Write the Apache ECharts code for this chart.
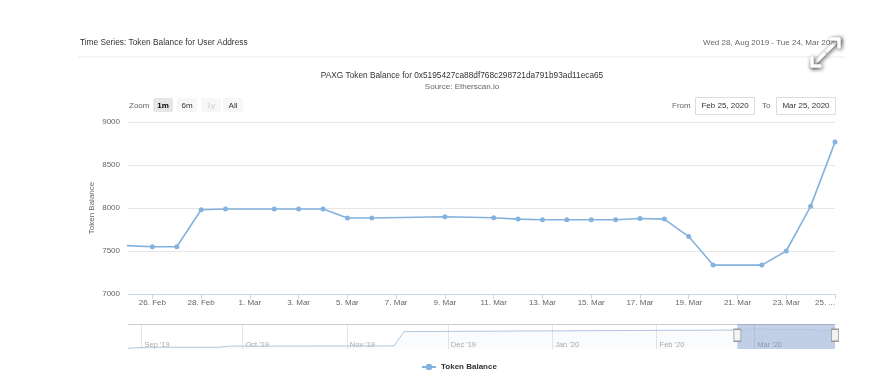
<!DOCTYPE html>
<html><head><meta charset="utf-8">
<script src="https://cdn.jsdelivr.net/npm/echarts@6/dist/echarts.min.js"></script>
<style>html,body{margin:0;padding:0;background:#fff}#c{width:895px;height:382px}</style>
</head><body><div id="c"></div>
<script>
// Visible window (1m) – token balance per date
const dates = ['2020-02-24','2020-02-26','2020-02-27','2020-02-28','2020-02-29','2020-03-02','2020-03-03','2020-03-04','2020-03-05','2020-03-06','2020-03-09','2020-03-11','2020-03-12','2020-03-13','2020-03-14','2020-03-15','2020-03-16','2020-03-17','2020-03-18','2020-03-19','2020-03-20','2020-03-22','2020-03-23','2020-03-24','2020-03-25'];
const balances = [7575,7550,7550,7980,7988,7988,7988,7988,7883,7883,7898,7887,7871,7863,7863,7863,7863,7878,7871,7668,7336,7336,7500,8019,8766];
// Earlier history
const historyDates = ['2019-08-28','2019-09-03','2019-09-24','2019-09-27','2019-10-31','2019-11-15','2019-11-18','2019-12-01','2019-12-16','2020-01-01','2020-01-15','2020-02-01','2020-02-15'];
const historyBalances = [300,700,700,1150,1200,1250,6950,7050,7150,7250,7350,7450,7520];
// Axis ticks
const xTickDates = ['2020-02-26','2020-02-28','2020-03-01','2020-03-03','2020-03-05','2020-03-07','2020-03-09','2020-03-11','2020-03-13','2020-03-15','2020-03-17','2020-03-19','2020-03-21','2020-03-23','2020-03-25'];
const yTicks = [7000,7500,8000,8500,9000];
const navTickDates = ['2019-09-01','2019-10-01','2019-11-01','2019-12-01','2020-01-01','2020-02-01','2020-03-01'];
const windowStart = '2020-02-25';
const windowEnd = '2020-03-25';
const navStart = '2019-08-28';

const MONTHS = ['Jan','Feb','Mar','Apr','May','Jun','Jul','Aug','Sep','Oct','Nov','Dec'];
const ts = s => { const p = s.split('-').map(Number); return new Date(p[0], p[1] - 1, p[2]).getTime(); };
const FONT = 'Liberation Sans, Arial, sans-serif';
const mainData = dates.map((d, i) => [ts(d), balances[i]]);
const navData = historyDates.map((d, i) => [ts(d), historyBalances[i]]).concat(mainData);
const xTicks = xTickDates.map(ts);
const navTicks = navTickDates.map(ts);
const lastTick = xTicks[xTicks.length - 1];

const chart = echarts.init(document.getElementById('c'), null, {renderer: 'canvas'});
const txt = (x, y, text, o) => Object.assign({type: 'text', x, y, silent: true,
  style: Object.assign({text, font: '8px ' + FONT, fill: '#333', align: 'left', verticalAlign: 'middle'}, o || {})});
const shadowed = {stroke: '#fff', fill: null, lineWidth: 3.5, lineCap: 'round', lineJoin: 'round', shadowBlur: 4, shadowOffsetX: 1, shadowOffsetY: 1, shadowColor: 'rgba(0,0,0,0.75)'};

chart.setOption({
  backgroundColor: '#fff',
  animation: false,
  textStyle: {fontFamily: FONT},
  grid: [
    {left: 128, right: 60, top: 122, height: 172, outerBoundsMode: 'none', containLabel: false},
    {left: 128, right: 60, top: 324, height: 25, outerBoundsMode: 'none', containLabel: false}
  ],
  xAxis: [
    {type: 'value', gridIndex: 0, min: ts(windowStart), max: ts(windowEnd),
      axisLine: {show: true, lineStyle: {color: '#ccd6eb'}},
      axisTick: {show: true, length: 5, customValues: xTicks, lineStyle: {color: '#ccd6eb'}},
      splitLine: {show: false},
      axisLabel: {customValues: xTicks, margin: 5, fontSize: 8, color: '#666', fontFamily: FONT,
        alignMaxLabel: 'right', showMinLabel: true, showMaxLabel: true,
        formatter: v => { const d = new Date(v); return v === lastTick ? d.getDate() + '. ...' : d.getDate() + '. ' + MONTHS[d.getMonth()]; }}},
    {type: 'value', gridIndex: 1, min: ts(navStart), max: ts(windowEnd),
      axisLine: {show: false}, axisTick: {show: false, customValues: navTicks},
      splitLine: {show: true, lineStyle: {color: '#e6e6e6'}},
      axisLabel: {customValues: navTicks, inside: true, margin: 0, fontSize: 7.5, color: '#aaa', align: 'left', padding: [0, 0, 0, 3], fontFamily: FONT,
        formatter: v => { const d = new Date(v); return MONTHS[d.getMonth()] + " '" + String(d.getFullYear()).slice(2); }}},
    {type: 'value', gridIndex: 1, position: 'top', min: ts(navStart), max: ts(windowEnd),
      axisLine: {show: true, lineStyle: {color: '#cccccc'}}, axisTick: {show: false}, axisLabel: {show: false}, splitLine: {show: false}}
  ],
  yAxis: [
    {type: 'value', gridIndex: 0, min: yTicks[0], max: yTicks[yTicks.length - 1], interval: 500,
      name: 'Token Balance', nameLocation: 'middle', nameGap: 32, nameRotate: 90, nameMoveOverlap: false,
      nameTextStyle: {fontSize: 8, color: '#666', fontFamily: FONT},
      axisLine: {show: false}, axisTick: {show: false},
      splitLine: {show: true, lineStyle: {color: '#e6e6e6'}},
      axisLabel: {fontSize: 8, color: '#666', margin: 8, fontFamily: FONT, formatter: v => String(v)}},
    {type: 'value', gridIndex: 1, min: 0, max: 10000, show: false, splitLine: {show: false}}
  ],
  legend: {data: ['Token Balance'], left: 416, top: 358, itemWidth: 14, itemHeight: 8, itemGap: 5,
    textStyle: {fontSize: 8, fontWeight: 'bold', color: '#333', fontFamily: FONT}},
  series: [
    {name: 'Token Balance', type: 'line', xAxisIndex: 0, yAxisIndex: 0, data: mainData,
      symbol: 'circle', symbolSize: 5, showSymbol: true, clip: true,
      lineStyle: {color: '#84b2de', width: 1.6}, itemStyle: {color: '#84b2de'}},
    {name: 'Navigator', type: 'line', xAxisIndex: 1, yAxisIndex: 1, data: navData, silent: true,
      symbol: 'none', lineStyle: {color: '#b0c6e0', width: 1},
      areaStyle: {color: 'rgba(51,92,173,0.04)'},
      markArea: {silent: true, itemStyle: {color: 'rgba(102,133,194,0.38)'},
        data: [[{xAxis: ts(windowStart)}, {xAxis: ts(windowEnd)}]]},
      markPoint: {silent: true, symbol: 'rect', symbolSize: [7, 12], label: {show: false},
        itemStyle: {color: '#f2f2f2', borderColor: '#999', borderWidth: 1},
        data: [{coord: [ts(windowStart), 5500]}, {coord: [ts(windowEnd), 5500]}]}}
  ],
  graphic: [
    txt(80, 43, 'Time Series: Token Balance for User Address', {font: '8.3px ' + FONT, fill: '#333'}),
    {type: 'line', silent: true, shape: {x1: 78, y1: 57, x2: 845, y2: 57}, style: {stroke: '#ececec', lineWidth: 1}},
    txt(703, 43, 'Wed 28, Aug 2019 - Tue 24, Mar 2020', {font: '8px ' + FONT, fill: '#666', width: 134, overflow: 'truncate', ellipsis: ''}),
    {type: 'polyline', silent: true, shape: {points: [[826, 52], [839, 39]]}, style: shadowed},
    {type: 'polyline', silent: true, shape: {points: [[831, 39], [839, 39], [839, 47]]}, style: shadowed},
    {type: 'polyline', silent: true, shape: {points: [[824, 54], [812, 66]]}, style: shadowed},
    {type: 'polyline', silent: true, shape: {points: [[812, 58], [812, 66], [820, 66]]}, style: shadowed},
    txt(462, 76, 'PAXG Token Balance for 0x5195427ca88df768c298721da791b93ad11eca65', {align: 'center', font: '8.3px ' + FONT, fill: '#333'}),
    txt(462, 87, 'Source: Etherscan.io', {align: 'center', font: '8px ' + FONT, fill: '#666'}),
    txt(129, 105.5, 'Zoom', {fill: '#666'}),
    {type: 'rect', silent: true, shape: {x: 153, y: 98, width: 20, height: 14, r: 2}, style: {fill: '#e6e6e6'}},
    {type: 'rect', silent: true, shape: {x: 177, y: 98, width: 20, height: 14, r: 2}, style: {fill: '#f7f7f7'}},
    {type: 'rect', silent: true, shape: {x: 201, y: 98, width: 20, height: 14, r: 2}, style: {fill: '#f7f7f7'}},
    {type: 'rect', silent: true, shape: {x: 223, y: 98, width: 20, height: 14, r: 2}, style: {fill: '#f7f7f7'}},
    txt(163, 105.5, '1m', {align: 'center', font: 'bold 8px ' + FONT, fill: '#000'}),
    txt(187, 105.5, '6m', {align: 'center', fill: '#333'}),
    txt(211, 105.5, '1y', {align: 'center', fill: '#ccc'}),
    txt(233, 105.5, 'All', {align: 'center', fill: '#333'}),
    txt(672, 105.5, 'From', {fill: '#666'}),
    {type: 'rect', silent: true, shape: {x: 695.5, y: 97.5, width: 59, height: 17}, style: {fill: '#fff', stroke: '#ddd', lineWidth: 1}},
    txt(725, 106, 'Feb 25, 2020', {align: 'center', fill: '#333'}),
    txt(762, 105.5, 'To', {fill: '#666'}),
    {type: 'rect', silent: true, shape: {x: 776.5, y: 97.5, width: 59, height: 17}, style: {fill: '#fff', stroke: '#ddd', lineWidth: 1}},
    txt(806, 106, 'Mar 25, 2020', {align: 'center', fill: '#333'})
  ]
});
</script></body></html>
